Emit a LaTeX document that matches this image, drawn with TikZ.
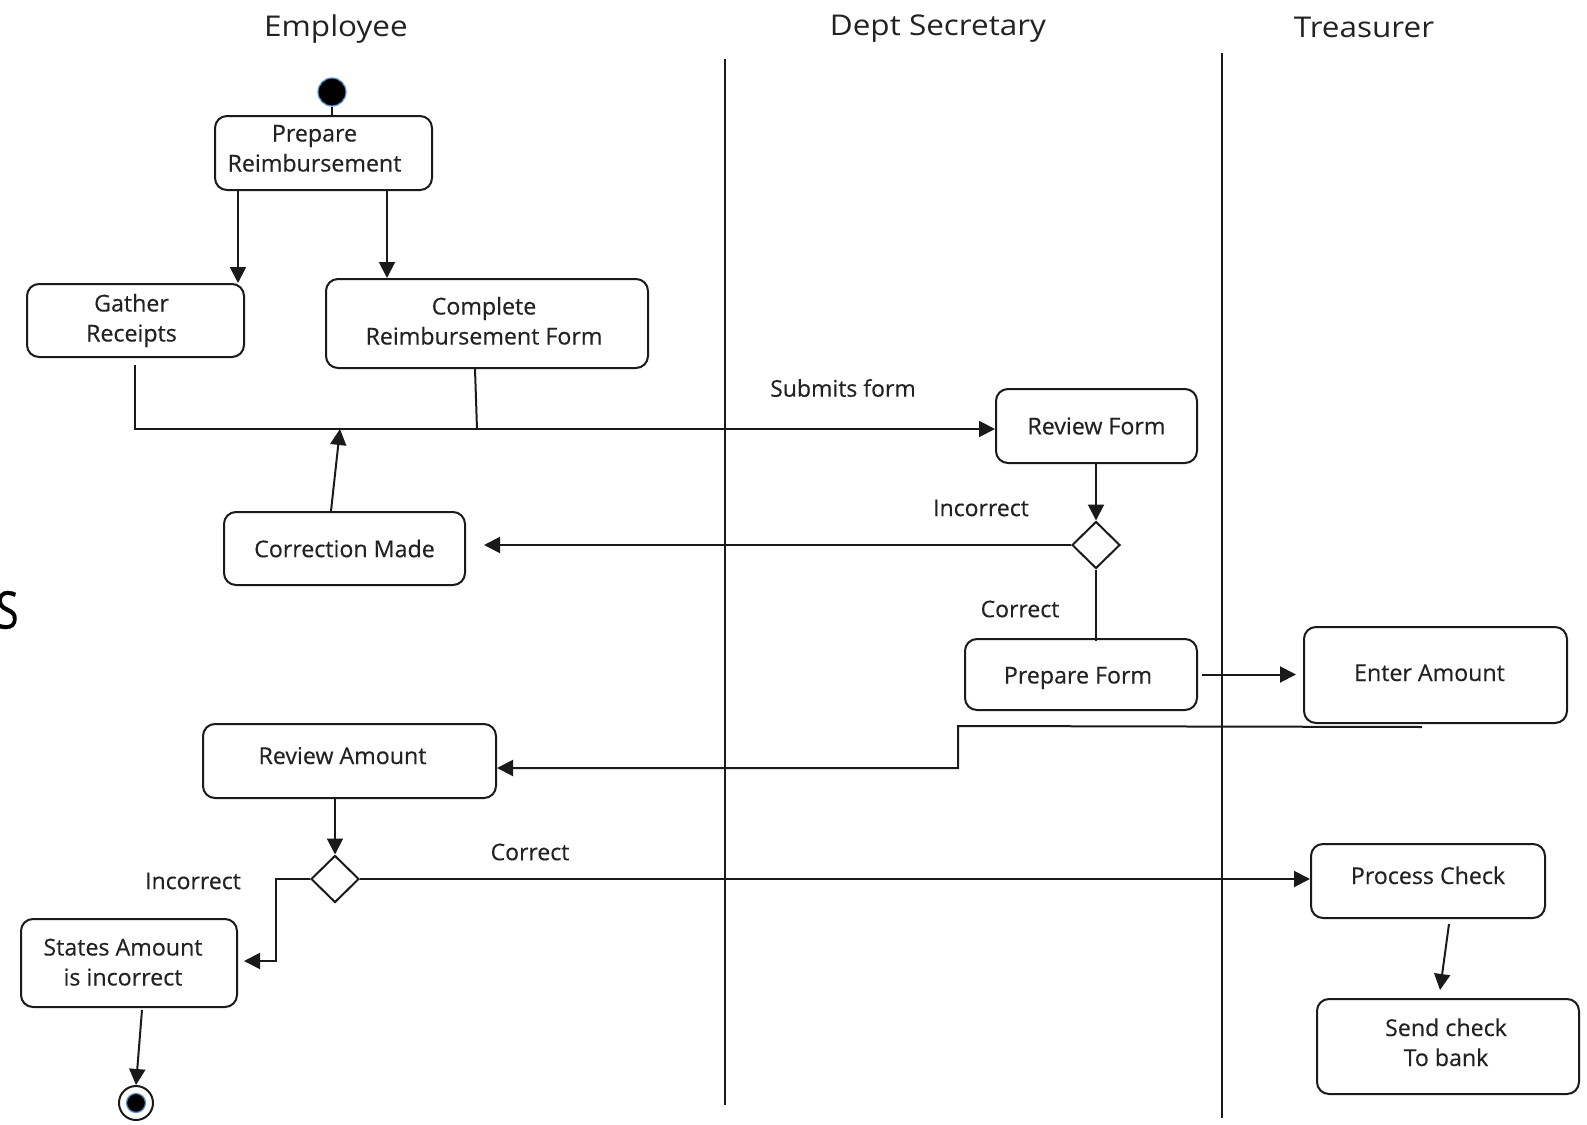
\documentclass[tikz,border=0pt]{standalone}
\usepackage{fontspec}
\setmainfont{Open Sans}[FakeBold=0.35]
\newfontfamily\headfont{Open Sans}[FakeStretch=1.1]
\usetikzlibrary{arrows.meta,shapes.geometric}
\definecolor{ink}{HTML}{1A1A1A}
\definecolor{txt}{HTML}{222222}
\definecolor{halo}{HTML}{5B8FC7}
% text block inside an activity: #1 = twice the shift to the left, #2 = lift
\newcommand\boxtext[3]{\raisebox{#2}[\height][\depth]{\begin{tabular}{@{}c@{}}#3\end{tabular}}\hspace*{#1}}
\begin{document}
\begin{tikzpicture}[x=0.5pt,y=-0.5pt,
  box/.style={draw=ink, line width=1pt, rounded corners=6pt, align=center,
    text=txt, font=\fontsize{11.6}{15}\selectfont, inner sep=0pt},
  decision/.style={diamond, draw=ink, line width=1pt, minimum width=24pt,
    minimum height=23.5pt, inner sep=0pt},
  conn/.style={draw=ink, line width=1pt},
  arr/.style={conn, -{Triangle[length=8pt,width=8pt]}},
  lane/.style={draw=ink, line width=1pt},
  head/.style={text=txt, font=\headfont\fontsize{14.3}{17}\selectfont},
  lbl/.style={text=txt, font=\fontsize{11.5}{14}\selectfont},
]
\useasboundingbox (0,0) rectangle (1587,1125);

% swimlane separators
\draw[lane] (725,59) -- (725,1105);
\draw[lane] (1222,53) -- (1222,1118);

% lane headers
\node[head] (hemp) at (336,29) {Employee};
\node[head] (hsec) at (938,29) {Dept Secretary};
\node[head] (htre) at (1364,27) {Treasurer};

% clipped letter on the left border
\node[anchor=east, inner sep=0pt, text=black, font=\fontsize{26}{30}\selectfont] (cut) at (19,610) {\scalebox{0.8}[1]{S}};

% start and end
\node[circle, fill=black, draw=halo, line width=0.6pt, minimum size=14pt, inner sep=0pt] (start) at (332,92) {};
\node[circle, draw=ink, line width=1pt, minimum size=17pt, inner sep=0pt, fill=white] (fin) at (136,1103) {};
\node[circle, fill=black, draw=halo, line width=0.6pt, minimum size=9.5pt, inner sep=0pt] at (fin) {};

% activities
\node[box, minimum width=108.5pt, minimum height=37pt] (prep) at (323.5,153) {\boxtext{9pt}{1.25pt}{Prepare\\Reimbursement}};
\node[box, minimum width=108.5pt, minimum height=36.5pt] (gather) at (135.5,320.5) {\boxtext{4pt}{0pt}{Gather\\Receipts}};
\node[box, minimum width=161pt, minimum height=44.5pt] (complete) at (487,323.5) {\boxtext{3pt}{0pt}{Complete\\Reimbursement Form}};
\node[box, minimum width=100.5pt, minimum height=37pt] (rform) at (1096.5,426) {Review Form};
\node[box, minimum width=120.5pt, minimum height=36.5pt] (corr) at (344.5,548.5) {Correction Made};
\node[box, minimum width=116pt, minimum height=35.5pt] (pform) at (1081,674.5) {\boxtext{3pt}{-1.5pt}{Prepare Form}};
\node[box, minimum width=131.5pt, minimum height=48pt] (enter) at (1435.5,675) {\boxtext{6pt}{0pt}{Enter Amount}};
\node[box, minimum width=146.5pt, minimum height=37pt] (ramount) at (349.5,761) {\boxtext{7pt}{1.5pt}{Review Amount}};
\node[box, minimum width=108pt, minimum height=44pt] (states) at (129,963) {\boxtext{6pt}{-0.75pt}{States Amount\\is incorrect}};
\node[box, minimum width=117pt, minimum height=37pt] (process) at (1428,881) {\boxtext{0pt}{1.5pt}{Process Check}};
\node[box, minimum width=131pt, minimum height=47.5pt] (send) at (1448,1046.5) {\boxtext{2pt}{0.75pt}{Send check\\To bank}};

% decisions
\node[decision] (d1) at (1096,545) {};
\node[decision] (d2) at (335,879) {};

% join bar where the form is submitted
\coordinate (j1) at (135,429);
\coordinate (j2) at (477,429);
\coordinate (j3) at (340,429);

% flows
\draw[conn] (start) -- (prep.north -| start);
\draw[arr] ([xshift=-42.75pt]prep.south) -- ([xshift=-42.75pt]prep.south |- gather.north);
\draw[arr] ([xshift=31.75pt]prep.south) -- ([xshift=31.75pt]prep.south |- complete.north);
\draw[arr] ([yshift=-3.5pt]gather.south -| j1) -- (j1) -- (j1 -| rform.west);
\draw[conn] ([xshift=-6pt]complete.south) -- (j2);
\node[lbl] (lsub) at (843,388) {Submits form};

\draw[arr] (rform.south -| d1.north) -- (d1.north);
\coordinate (cin) at (484,545);
\draw[arr] (d1.west) -- (cin);
\node[lbl] (linc1) at (981,508) {Incorrect};
\draw[arr] ([xshift=-6.75pt]corr.north) -- (j3);

\draw[conn] (d1.south) -- ([yshift=-1.5pt]pform.north -| d1.south);
\node[lbl] (lcor1) at (1020,609) {Correct};
\draw[arr, shorten <=2pt, shorten >=3.5pt] (pform.east) -- (pform.east -| enter.west);

\draw[arr] ([xshift=-6.75pt, yshift=-1.5pt]enter.south) -- (958,726) |- ([yshift=-3.5pt]ramount.east);

\draw[arr] ([xshift=-7.25pt]ramount.south) -- (d2.north);
\draw[arr] (d2.east) -- (d2.east -| process.west);
\node[lbl] (lcor2) at (530,852) {Correct};
\draw[arr, shorten >=3pt] (d2.west) -- ++(-34,0) |- ([yshift=1pt]states.east);
\node[lbl] (linc2) at (193,881) {Incorrect};
\draw[arr] ([xshift=6.5pt, yshift=-1pt]states.south) -- (fin.north);

\draw[arr] ([xshift=10.5pt, yshift=-2.5pt]process.south) -- ([xshift=-4pt, yshift=4pt]send.north);
\end{tikzpicture}
\end{document}
